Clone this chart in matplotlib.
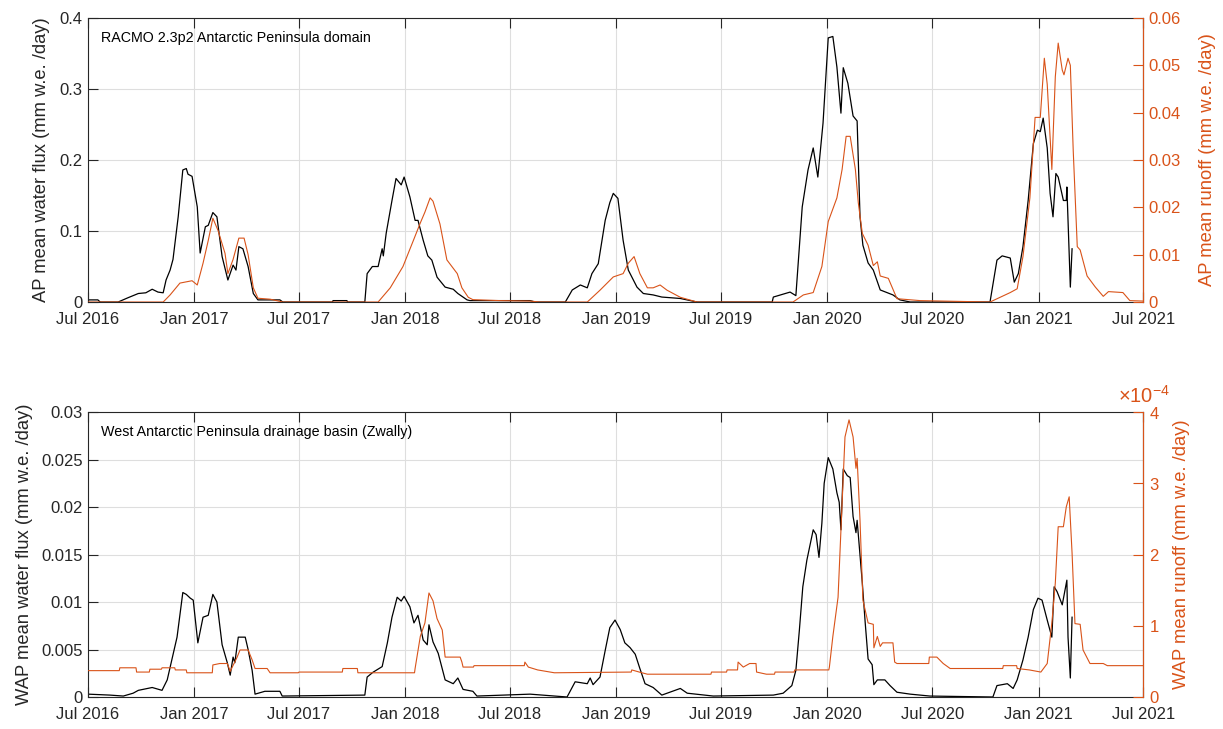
import pandas as pd
import matplotlib
matplotlib.use("Agg")
import matplotlib.pyplot as plt
import matplotlib.dates as mdates
from matplotlib.ticker import ScalarFormatter, MultipleLocator

plt.rcParams["font.family"] = ["Liberation Sans", "DejaVu Sans"]
plt.rcParams["mathtext.fontset"] = "custom"
plt.rcParams["mathtext.rm"] = "Liberation Sans"

# ── AP (RACMO 2.3p2 domain): mean water flux ─────────────
ap_flux_dates = [
    "2016-07-01", "2016-07-18", "2016-07-22", "2016-08-22", "2016-09-08", "2016-09-26",
    "2016-10-09", "2016-10-20", "2016-10-30", "2016-11-08", "2016-11-13", "2016-11-20",
    "2016-11-25", "2016-12-04", "2016-12-12", "2016-12-18", "2016-12-21", "2016-12-28",
    "2017-01-06", "2017-01-11", "2017-01-20", "2017-01-25", "2017-02-02", "2017-02-09",
    "2017-02-18", "2017-02-28", "2017-03-09", "2017-03-14", "2017-03-19", "2017-03-26",
    "2017-04-04", "2017-04-13", "2017-04-21", "2017-05-29", "2017-06-03", "2017-08-28",
    "2017-08-29", "2017-09-22", "2017-09-23", "2017-10-23", "2017-10-27", "2017-11-05",
    "2017-11-15", "2017-11-22", "2017-11-24", "2017-11-29", "2017-12-09", "2017-12-16",
    "2017-12-25", "2017-12-30", "2018-01-09", "2018-01-18", "2018-01-23", "2018-02-01",
    "2018-02-09", "2018-02-16", "2018-02-25", "2018-03-11", "2018-03-25", "2018-04-02",
    "2018-04-18", "2018-04-23", "2018-08-05", "2018-08-14", "2018-10-05", "2018-10-17",
    "2018-10-31", "2018-11-12", "2018-11-20", "2018-12-01", "2018-12-13", "2018-12-21",
    "2018-12-27", "2019-01-04", "2019-01-13", "2019-01-22", "2019-02-06", "2019-02-17",
    "2019-03-06", "2019-03-21", "2019-04-22", "2019-05-21", "2019-09-28", "2019-09-30",
    "2019-10-29", "2019-11-08", "2019-11-19", "2019-11-29", "2019-12-08", "2019-12-16",
    "2019-12-25", "2020-01-03", "2020-01-11", "2020-01-18", "2020-01-25", "2020-01-29",
    "2020-02-06", "2020-02-15", "2020-02-22", "2020-02-27", "2020-03-03", "2020-03-12",
    "2020-03-21", "2020-04-02", "2020-04-24", "2020-05-06", "2020-05-24", "2020-10-09",
    "2020-10-21", "2020-10-30", "2020-11-13", "2020-11-20", "2020-11-27", "2020-12-05",
    "2020-12-14", "2020-12-23", "2020-12-30", "2021-01-04", "2021-01-09", "2021-01-16",
    "2021-01-21", "2021-01-26", "2021-01-31", "2021-02-04", "2021-02-13", "2021-02-18",
    "2021-02-19", "2021-02-21", "2021-02-25", "2021-02-28",
]
ap_flux = [
    0.003, 0.003, 0.0, 0.0, 0.006, 0.012,
    0.013, 0.018, 0.014, 0.013, 0.031, 0.045,
    0.060, 0.120, 0.186, 0.188, 0.180, 0.177,
    0.134, 0.069, 0.106, 0.108, 0.126, 0.120,
    0.064, 0.031, 0.052, 0.045, 0.078, 0.075,
    0.050, 0.012, 0.003, 0.003, 0.0, 0.0,
    0.002, 0.002, 0.0, 0.0, 0.040, 0.050,
    0.050, 0.075, 0.065, 0.097, 0.143, 0.174,
    0.165, 0.176, 0.148, 0.115, 0.115, 0.087,
    0.065, 0.059, 0.035, 0.021, 0.018, 0.012,
    0.003, 0.002, 0.002, 0.0, 0.0, 0.017,
    0.024, 0.020, 0.040, 0.054, 0.115, 0.140,
    0.153, 0.146, 0.087, 0.045, 0.021, 0.012,
    0.010, 0.007, 0.005, 0.0, 0.0, 0.007,
    0.014, 0.009, 0.134, 0.186, 0.217, 0.176,
    0.252, 0.372, 0.374, 0.331, 0.266, 0.330,
    0.308, 0.262, 0.255, 0.120, 0.080, 0.055,
    0.045, 0.017, 0.010, 0.003, 0.0, 0.0,
    0.059, 0.065, 0.062, 0.028, 0.040, 0.078,
    0.143, 0.223, 0.242, 0.240, 0.259, 0.217,
    0.153, 0.120, 0.181, 0.176, 0.143, 0.143,
    0.162, 0.115, 0.021, 0.075,
]

# ── AP: mean runoff ──────────────────────────────────────
ap_runoff_dates = [
    "2016-07-01", "2016-11-08", "2016-11-20", "2016-12-07", "2016-12-28", "2017-01-06",
    "2017-01-16", "2017-01-25", "2017-02-02", "2017-02-11", "2017-02-23", "2017-02-28",
    "2017-03-09", "2017-03-19", "2017-03-28", "2017-04-04", "2017-04-13", "2017-04-21",
    "2017-05-12", "2017-06-03", "2017-11-15", "2017-12-06", "2017-12-28", "2018-01-15",
    "2018-01-27", "2018-02-04", "2018-02-13", "2018-02-18", "2018-03-02", "2018-03-14",
    "2018-04-01", "2018-04-09", "2018-04-20", "2018-04-28", "2018-06-14", "2018-08-05",
    "2018-08-22", "2018-11-12", "2018-12-04", "2018-12-27", "2019-01-13", "2019-01-22",
    "2019-02-01", "2019-02-11", "2019-02-24", "2019-03-06", "2019-03-18", "2019-03-30",
    "2019-04-22", "2019-05-21", "2019-11-03", "2019-11-21", "2019-12-08", "2019-12-23",
    "2020-01-03", "2020-01-18", "2020-01-27", "2020-02-03", "2020-02-10", "2020-02-19",
    "2020-02-24", "2020-03-02", "2020-03-12", "2020-03-21", "2020-03-28", "2020-04-02",
    "2020-04-16", "2020-05-01", "2020-06-10", "2020-10-09", "2020-11-13", "2020-11-25",
    "2020-12-05", "2020-12-17", "2020-12-26", "2021-01-04", "2021-01-11", "2021-01-16",
    "2021-01-24", "2021-01-30", "2021-02-04", "2021-02-11", "2021-02-14", "2021-02-21",
    "2021-02-25", "2021-03-02", "2021-03-09", "2021-03-14", "2021-03-26", "2021-04-09",
    "2021-04-23", "2021-05-02", "2021-05-27", "2021-06-08", "2021-07-01",
]
ap_runoff = [
    0.0, 0.0, 0.0015, 0.0040, 0.0045, 0.0036,
    0.0082, 0.0130, 0.0177, 0.0151, 0.0103, 0.0060,
    0.0090, 0.0135, 0.0135, 0.0100, 0.0030, 0.0008,
    0.0006, 0.0, 0.0, 0.0030, 0.0075, 0.0130,
    0.0167, 0.0190, 0.0220, 0.0213, 0.0165, 0.0089,
    0.0060, 0.0030, 0.0010, 0.0005, 0.0003, 0.0002,
    0.0, 0.0, 0.0025, 0.0053, 0.0060, 0.0082,
    0.0096, 0.0060, 0.0030, 0.0030, 0.0036, 0.0025,
    0.0010, 0.0, 0.0, 0.0015, 0.0020, 0.0075,
    0.0170, 0.0220, 0.0280, 0.0350, 0.0350, 0.0280,
    0.0210, 0.0145, 0.0120, 0.0077, 0.0085, 0.0055,
    0.0050, 0.0007, 0.0003, 0.0, 0.0020, 0.0028,
    0.0096, 0.0220, 0.0390, 0.0390, 0.0515, 0.0460,
    0.0280, 0.0476, 0.0547, 0.0490, 0.0480, 0.0515,
    0.0500, 0.0320, 0.0117, 0.0110, 0.0055, 0.0032,
    0.0012, 0.0022, 0.0020, 0.0003, 0.0002,
]

# ── WAP (Zwally drainage basin): mean water flux ─────────
wap_flux_dates = [
    "2016-07-01", "2016-08-08", "2016-08-31", "2016-09-17", "2016-09-26", "2016-10-20",
    "2016-11-06", "2016-11-15", "2016-11-23", "2016-12-02", "2016-12-12", "2016-12-18",
    "2016-12-25", "2016-12-30", "2017-01-07", "2017-01-16", "2017-01-25", "2017-02-02",
    "2017-02-09", "2017-02-18", "2017-02-27", "2017-03-04", "2017-03-09", "2017-03-12",
    "2017-03-18", "2017-03-30", "2017-04-04", "2017-04-11", "2017-04-16", "2017-05-03",
    "2017-05-29", "2017-06-02", "2017-10-23", "2017-10-27", "2017-11-06", "2017-11-22",
    "2017-12-01", "2017-12-09", "2017-12-18", "2017-12-25", "2017-12-30", "2018-01-09",
    "2018-01-16", "2018-01-23", "2018-02-01", "2018-02-08", "2018-02-11", "2018-02-18",
    "2018-02-27", "2018-03-11", "2018-03-25", "2018-04-02", "2018-04-11", "2018-04-28",
    "2018-05-05", "2018-08-05", "2018-10-08", "2018-10-22", "2018-11-12", "2018-11-17",
    "2018-11-22", "2018-12-04", "2018-12-13", "2018-12-21", "2018-12-30", "2019-01-08",
    "2019-01-16", "2019-01-25", "2019-02-03", "2019-02-11", "2019-02-20", "2019-03-06",
    "2019-03-21", "2019-03-30", "2019-04-22", "2019-05-04", "2019-06-18", "2019-09-30",
    "2019-10-17", "2019-11-01", "2019-11-08", "2019-11-14", "2019-11-20", "2019-11-27",
    "2019-12-08", "2019-12-13", "2019-12-18", "2019-12-23", "2019-12-27", "2020-01-03",
    "2020-01-11", "2020-01-18", "2020-01-22", "2020-01-25", "2020-01-29", "2020-02-05",
    "2020-02-10", "2020-02-15", "2020-02-20", "2020-02-22", "2020-03-02", "2020-03-07",
    "2020-03-12", "2020-03-19", "2020-03-22", "2020-03-28", "2020-04-10", "2020-04-19",
    "2020-05-01", "2020-05-24", "2020-06-27", "2020-10-14", "2020-10-21", "2020-11-08",
    "2020-11-18", "2020-11-25", "2020-12-05", "2020-12-14", "2020-12-23", "2020-12-31",
    "2021-01-07", "2021-01-16", "2021-01-24", "2021-01-28", "2021-02-02", "2021-02-11",
    "2021-02-19", "2021-02-21", "2021-02-25", "2021-02-28",
]
wap_flux = [
    0.0003, 0.0002, 0.0001, 0.0004, 0.0007, 0.0010,
    0.0007, 0.0018, 0.0039, 0.0063, 0.0110, 0.0108,
    0.0104, 0.0102, 0.0057, 0.0084, 0.0086, 0.0108,
    0.0100, 0.0055, 0.0036, 0.0023, 0.0042, 0.0036,
    0.0063, 0.0063, 0.0050, 0.0028, 0.0003, 0.0006,
    0.0006, 0.0001, 0.0002, 0.0021, 0.0026, 0.0032,
    0.0057, 0.0084, 0.0105, 0.0101, 0.0106, 0.0095,
    0.0078, 0.0086, 0.0060, 0.0055, 0.0076, 0.0058,
    0.0046, 0.0018, 0.0014, 0.0020, 0.0008, 0.0006,
    0.0001, 0.0003, 0.0, 0.0016, 0.0014, 0.0020,
    0.0013, 0.0021, 0.0049, 0.0073, 0.0081, 0.0071,
    0.0057, 0.0052, 0.0045, 0.0030, 0.0014, 0.0010,
    0.0002, 0.0004, 0.0009, 0.0004, 0.0001, 0.0002,
    0.0004, 0.0012, 0.0028, 0.0070, 0.0116, 0.0144,
    0.0176, 0.0171, 0.0147, 0.0183, 0.0225, 0.0252,
    0.0240, 0.0215, 0.0205, 0.0176, 0.0240, 0.0233,
    0.0231, 0.0190, 0.0173, 0.0186, 0.0120, 0.0078,
    0.0040, 0.0034, 0.0013, 0.0018, 0.0018, 0.0012,
    0.0005, 0.0003, 0.0001, 0.0, 0.0012, 0.0014,
    0.0009, 0.0018, 0.0039, 0.0063, 0.0092, 0.0104,
    0.0102, 0.0081, 0.0063, 0.0116, 0.0111, 0.0097,
    0.0123, 0.0063, 0.0020, 0.0084,
]

# ── WAP: mean runoff ─────────────────────────────────────
wap_runoff_dates = [
    "2016-07-01", "2016-08-24", "2016-08-25", "2016-09-22", "2016-09-23", "2016-10-15",
    "2016-10-16", "2016-11-05", "2016-11-06", "2016-11-28", "2016-11-29", "2016-12-18",
    "2016-12-19", "2017-02-01", "2017-02-02", "2017-02-14", "2017-02-27", "2017-03-04",
    "2017-03-16", "2017-03-21", "2017-04-04", "2017-04-11", "2017-04-16", "2017-05-07",
    "2017-05-12", "2017-06-30", "2017-07-01", "2017-09-14", "2017-09-15", "2017-10-10",
    "2017-10-11", "2018-01-17", "2018-01-18", "2018-01-27", "2018-02-04", "2018-02-11",
    "2018-02-18", "2018-02-25", "2018-03-06", "2018-03-11", "2018-04-06", "2018-04-09",
    "2018-04-11", "2018-04-29", "2018-04-30", "2018-07-26", "2018-07-27", "2018-08-02",
    "2018-08-18", "2018-09-16", "2019-01-27", "2019-01-28", "2019-02-10", "2019-02-24",
    "2019-06-14", "2019-06-15", "2019-07-11", "2019-07-12", "2019-07-30", "2019-07-31",
    "2019-08-09", "2019-08-20", "2019-08-31", "2019-09-01", "2019-09-18", "2019-10-02",
    "2019-10-03", "2019-11-05", "2019-11-06", "2020-01-04", "2020-01-05", "2020-01-11",
    "2020-01-20", "2020-01-27", "2020-02-01", "2020-02-08", "2020-02-15", "2020-02-20",
    "2020-02-22", "2020-02-27", "2020-03-03", "2020-03-12", "2020-03-21", "2020-03-22",
    "2020-03-28", "2020-04-02", "2020-04-06", "2020-04-24", "2020-04-27", "2020-05-01",
    "2020-06-25", "2020-06-26", "2020-07-09", "2020-07-20", "2020-08-01", "2020-10-31",
    "2020-11-01", "2020-11-24", "2020-11-25", "2020-12-16", "2021-01-05", "2021-01-16",
    "2021-01-24", "2021-01-30", "2021-02-04", "2021-02-13", "2021-02-18", "2021-02-23",
    "2021-02-28", "2021-03-05", "2021-03-14", "2021-03-19", "2021-03-31", "2021-04-23",
    "2021-04-30", "2021-07-01",
]
wap_runoff = [
    0.37e-4, 0.37e-4, 0.41e-4, 0.41e-4, 0.35e-4, 0.35e-4,
    0.39e-4, 0.39e-4, 0.41e-4, 0.41e-4, 0.38e-4, 0.38e-4,
    0.34e-4, 0.34e-4, 0.45e-4, 0.47e-4, 0.47e-4, 0.36e-4,
    0.56e-4, 0.66e-4, 0.66e-4, 0.52e-4, 0.40e-4, 0.40e-4,
    0.34e-4, 0.34e-4, 0.35e-4, 0.35e-4, 0.40e-4, 0.40e-4,
    0.34e-4, 0.34e-4, 0.40e-4, 0.85e-4, 1.04e-4, 1.46e-4,
    1.35e-4, 1.10e-4, 0.94e-4, 0.56e-4, 0.56e-4, 0.49e-4,
    0.42e-4, 0.42e-4, 0.44e-4, 0.44e-4, 0.49e-4, 0.42e-4,
    0.38e-4, 0.34e-4, 0.35e-4, 0.38e-4, 0.35e-4, 0.32e-4,
    0.32e-4, 0.35e-4, 0.35e-4, 0.38e-4, 0.38e-4, 0.49e-4,
    0.42e-4, 0.47e-4, 0.47e-4, 0.35e-4, 0.32e-4, 0.32e-4,
    0.35e-4, 0.35e-4, 0.38e-4, 0.38e-4, 0.42e-4, 0.85e-4,
    1.40e-4, 2.72e-4, 3.65e-4, 3.89e-4, 3.65e-4, 3.21e-4,
    3.35e-4, 2.48e-4, 1.36e-4, 1.04e-4, 1.02e-4, 0.69e-4,
    0.85e-4, 0.71e-4, 0.76e-4, 0.76e-4, 0.49e-4, 0.47e-4,
    0.47e-4, 0.56e-4, 0.56e-4, 0.47e-4, 0.40e-4, 0.40e-4,
    0.44e-4, 0.44e-4, 0.40e-4, 0.38e-4, 0.35e-4, 0.47e-4,
    1.04e-4, 1.60e-4, 2.39e-4, 2.39e-4, 2.67e-4, 2.81e-4,
    2.02e-4, 1.03e-4, 1.02e-4, 0.66e-4, 0.47e-4, 0.47e-4,
    0.44e-4, 0.44e-4,
]

# ── Styling ──────────────────────────────────────────────
AXC    = "#262626"
ORANGE = "#D95319"
GRID   = "#dedede"
TICK_FS  = 12
LABEL_FS = 13.2

fig = plt.figure(figsize=(12.23, 7.29), dpi=100, facecolor="white")
ax_top = fig.add_axes([0.072, 0.5857, 0.8627, 0.3896])
ax_bot = fig.add_axes([0.072, 0.0439, 0.8627, 0.3909])


def style_pair(ax, ax2):
    ax.set_xlim(pd.Timestamp("2016-07-01"), pd.Timestamp("2021-07-01"))
    ax.xaxis.set_major_locator(mdates.MonthLocator(bymonth=[1, 7]))
    ax.xaxis.set_major_formatter(mdates.DateFormatter("%b %Y"))
    ax.grid(True, color=GRID, lw=0.8)
    ax.set_axisbelow(True)
    ax.tick_params(axis="both", direction="in", length=7, width=0.8,
                   colors=AXC, labelsize=TICK_FS, top=True)
    ax.tick_params(axis="x", pad=7)
    ax.tick_params(axis="y", pad=4)
    for s in ["left", "top", "bottom"]:
        ax.spines[s].set_color(AXC)
        ax.spines[s].set_linewidth(0.8)
    ax2.tick_params(axis="y", direction="in", length=7, width=0.8,
                    colors=ORANGE, labelsize=TICK_FS, pad=4)
    ax2.spines["right"].set_color(ORANGE)
    ax2.spines["right"].set_linewidth(0.8)
    for s in ["left", "top", "bottom"]:
        ax2.spines[s].set_visible(False)


# ── Top panel ────────────────────────────────────────────
ax_top2 = ax_top.twinx()
ax_top.plot(pd.to_datetime(ap_flux_dates), ap_flux, color="black", lw=0.9)
ax_top2.plot(pd.to_datetime(ap_runoff_dates), ap_runoff, color=ORANGE, lw=0.8)
style_pair(ax_top, ax_top2)
ax_top.set_ylim(0, 0.4)
ax_top.yaxis.set_major_locator(MultipleLocator(0.1))
ax_top.yaxis.set_major_formatter(plt.FuncFormatter(lambda v, p: f"{v:g}"))
ax_top2.set_ylim(0, 0.06)
ax_top2.yaxis.set_major_locator(MultipleLocator(0.01))
ax_top2.yaxis.set_major_formatter(plt.FuncFormatter(lambda v, p: f"{v:g}"))
ax_top.set_ylabel("AP mean water flux (mm w.e. /day)", fontsize=LABEL_FS,
                  color=AXC, labelpad=7)
ax_top2.set_ylabel("AP mean runoff (mm w.e. /day)", fontsize=LABEL_FS,
                   color=ORANGE, labelpad=13)
ax_top.text(0.012, 0.93, "RACMO 2.3p2 Antarctic Peninsula domain",
            transform=ax_top.transAxes, fontsize=10.3, color="black",
            ha="left", va="center")

# ── Bottom panel ─────────────────────────────────────────
ax_bot2 = ax_bot.twinx()
ax_bot.plot(pd.to_datetime(wap_flux_dates), wap_flux, color="black", lw=0.9)
ax_bot2.plot(pd.to_datetime(wap_runoff_dates), wap_runoff, color=ORANGE, lw=0.8)
style_pair(ax_bot, ax_bot2)
ax_bot.set_ylim(0, 0.03)
ax_bot.yaxis.set_major_locator(MultipleLocator(0.005))
ax_bot.yaxis.set_major_formatter(plt.FuncFormatter(lambda v, p: f"{v:g}"))
ax_bot2.set_ylim(0, 4e-4)
ax_bot2.yaxis.set_major_locator(MultipleLocator(1e-4))
fmt = ScalarFormatter(useMathText=True)
fmt.set_powerlimits((0, 0))
ax_bot2.yaxis.set_major_formatter(fmt)
ax_bot2.yaxis.get_offset_text().set_visible(False)
ax_bot2.text(0.976, 1.02, r"$\times\mathdefault{10^{-4}}$",
             transform=ax_bot2.transAxes, fontsize=14.5, color=ORANGE,
             ha="left", va="bottom")
ax_bot.set_ylabel("WAP mean water flux (mm w.e. /day)", fontsize=LABEL_FS,
                  color=AXC, labelpad=6)
ax_bot2.set_ylabel("WAP mean runoff (mm w.e. /day)", fontsize=LABEL_FS,
                   color=ORANGE, labelpad=10)
ax_bot.text(0.012, 0.93, "West Antarctic Peninsula drainage basin (Zwally)",
            transform=ax_bot.transAxes, fontsize=10.3, color="black",
            ha="left", va="center")

fig.savefig("out.png", dpi=100, facecolor="white")
